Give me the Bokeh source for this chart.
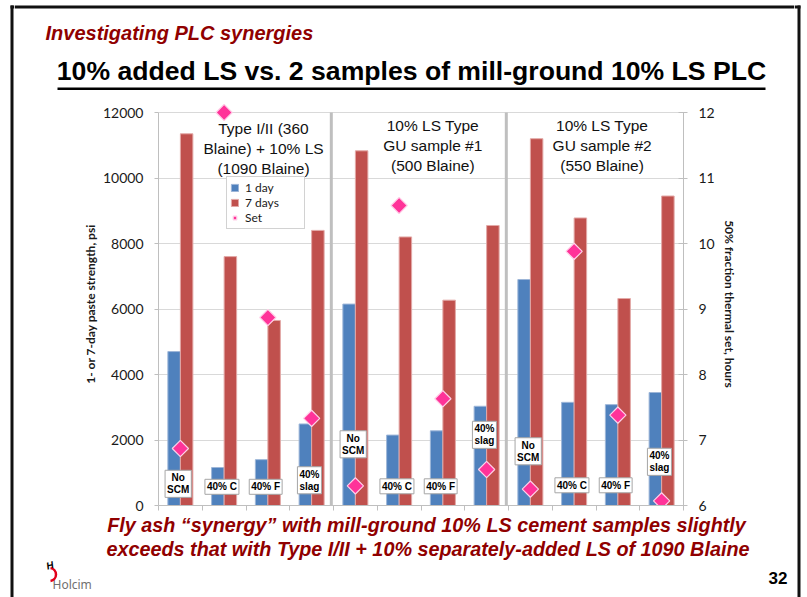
import numpy as np
from bokeh.plotting import figure
from bokeh.layouts import row, column
from bokeh.models import (Range1d, LinearAxis, FixedTicker, Legend, LegendItem)
from bokeh.core.properties import value
from bokeh.embed import file_html
from bokeh.resources import INLINE

# ---------------- data ----------------
panel_titles = ["Type I/II (360\nBlaine) + 10% LS\n(1090 Blaine)",
                "10% LS Type\nGU sample #1\n(500 Blaine)",
                "10% LS Type\nGU sample #2\n(550 Blaine)"]
scm_labels = ["No\nSCM", "40% C", "40% F", "40%\nslag"]
strength_1day = [4700, 1160, 1400, 2490, 6150, 2150, 2280, 3030, 6900, 3150, 3080, 3450]
strength_7day = [11350, 7600, 5650, 8400, 10830, 8200, 6270, 8550, 11200, 8780, 6320, 9450]
set_hours = [6.87, 12.0, 8.87, 7.33, 6.30, 10.58, 7.63, 6.55, 6.25, 9.88, 7.38, 6.07]
left_ticks = [0, 2000, 4000, 6000, 8000, 10000, 12000]
right_ticks = [6, 7, 8, 9, 10, 11, 12]
series_names = ["1 day", "7 days", "Set"]

slide_kicker = "Investigating PLC synergies"
slide_title = "10% added LS vs. 2 samples of mill-ground 10% LS PLC"
conclusion = ["Fly ash \u201csynergy\u201d with mill-ground 10% LS cement samples slightly",
              "exceeds that with Type I/II + 10% separately-added LS of 1090 Blaine"]
y_title = "1- or 7-day paste strength, psi"
y2_title = "50% fraction thermal set, hours"
page_number = "32"
logo_text = "Holcim"

# ---------------- positions (layout only) ----------------
label_y = [662, 571, 571, 770, 1868, 586, 586, 2158, 1655, 617, 617, 1334]
title_x = [2.4, 6.27, 10.14]
title_y_px = [46, 43, 43]          # px below the chart's top edge

# ---------------- geometry (page pixels) ----------------
PAGE_W, PAGE_H = 807, 597
LSTRIP, RSTRIP = 14, 13
COL_W = PAGE_W - LSTRIP - RSTRIP     # 780
HEAD_H = 102
CHART_H = 413
FOOT_H = PAGE_H - HEAD_H - CHART_H   # 82
FRAME_L, FRAME_R = 158, 683
FL = FRAME_L - LSTRIP
FR = LSTRIP + COL_W - FRAME_R
FB = 10
frame_h = CHART_H - FB               # 403

n = len(strength_1day)
y_max = left_ticks[-1]
px_per_unit_y = (frame_h - 10) / y_max
y_top = frame_h / px_per_unit_y
r_lo, r_hi = right_ticks[0], right_ticks[-1]
r_top = r_lo + (r_hi - r_lo) * y_top / y_max


def yd(px_from_top):
    return (frame_h - px_from_top) / px_per_unit_y


BLUE = "#4F81BD"
RED = "#C0504D"
PINK = "#FF3399"
DARKRED = "#900000"
AXIS_GREY = "#BFBFBF"
GRID_GREY = "#D9D9D9"
FRAME_BLACK = "#111111"


def blank(w, h, x0, y0):
    f = figure(width=w, height=h, output_backend="svg", toolbar_location=None,
               x_range=Range1d(x0, x0 + w), y_range=Range1d(y0 + h, y0),
               x_axis_type=None, y_axis_type=None, min_border=0)
    f.grid.visible = False
    f.outline_line_color = None
    f.background_fill_color = "white"
    f.border_fill_color = "white"
    return f


# ---------------- slide frame strips ----------------
ls = blank(LSTRIP, PAGE_H, 0, 0)
ls.quad(left=10, right=13, top=5, bottom=PAGE_H, fill_color=FRAME_BLACK, line_color=None)
ls.quad(left=10, right=LSTRIP, top=5, bottom=8, fill_color=FRAME_BLACK, line_color=None)
rs = blank(RSTRIP, PAGE_H, LSTRIP + COL_W, 0)
rs.quad(left=797, right=800, top=5, bottom=PAGE_H, fill_color=FRAME_BLACK, line_color=None)
rs.quad(left=LSTRIP + COL_W, right=800, top=5, bottom=8, fill_color=FRAME_BLACK, line_color=None)

# ---------------- header ----------------
hd = blank(COL_W, HEAD_H, LSTRIP, 0)
hd.quad(left=LSTRIP, right=LSTRIP + COL_W, top=5, bottom=8, fill_color=FRAME_BLACK, line_color=None)
hd.text(x=[45], y=[32], text=[slide_kicker], text_font=value("Liberation Sans"),
        text_font_size="20px", text_font_style="bold italic", text_color=DARKRED,
        text_align="left", text_baseline="middle")
hd.text(x=[411], y=[70], text=[slide_title], text_font=value("Liberation Sans"),
        text_font_size="26.6px", text_font_style="bold", text_color="black",
        text_align="center", text_baseline="middle")
hd.quad(left=57, right=765, top=87, bottom=89.5, fill_color="black", line_color=None)

# ---------------- chart ----------------
p = figure(width=COL_W, height=CHART_H, output_backend="svg", toolbar_location=None,
           x_range=Range1d(0, n), y_range=Range1d(0, y_top),
           min_border_left=FL, min_border_right=FR, min_border_top=0,
           min_border_bottom=FB)
p.extra_y_ranges = {"set": Range1d(r_lo, r_top)}
p.outline_line_color = None
p.background_fill_color = "white"
p.border_fill_color = "white"

cat = np.arange(n) + 0.5
bw = 0.286

b1 = p.vbar(x=cat - bw / 2, top=strength_1day, width=bw, fill_color=BLUE,
            line_color="#9DB6D8", line_width=1)
b7 = p.vbar(x=cat + bw / 2, top=strength_7day, width=bw, fill_color=RED,
            line_color="#E3A9A7", line_width=1)

group_size = len(scm_labels)
bounds_x = [group_size * (i + 1) - 0.05 for i in range(len(panel_titles) - 1)]
p.segment(x0=bounds_x, y0=0, x1=bounds_x, y1=y_max, line_color=AXIS_GREY, line_width=3)

p.text(x=cat - 0.05, y=label_y, text=scm_labels * len(panel_titles),
       text_font=value("Liberation Sans"), text_font_style="bold",
       text_font_size="10px", text_align="center", text_baseline="middle",
       text_line_height=1.1, text_color="black",
       background_fill_color="white", border_line_color="#A6A6A6",
       padding=2)

st = p.scatter(x=cat, y=set_hours, y_range_name="set", marker="square",
               size=11.5, angle=np.pi / 4, fill_color=PINK, line_color="#FFD0E8",
               line_width=1.2)

p.text(x=title_x, y=[yd(v) for v in title_y_px], text=panel_titles,
       text_font=value("Liberation Sans"), text_font_size="15.5px",
       text_align="center", text_baseline="middle", text_line_height=1.2,
       text_color="#111111")

ya = p.yaxis[0]
ya.ticker = FixedTicker(ticks=left_ticks)
ya.bounds = (0, y_max)
ya.axis_line_color = AXIS_GREY
ya.major_tick_line_color = AXIS_GREY
ya.major_tick_out = 4
ya.major_tick_in = 0
ya.minor_tick_line_color = None
ya.major_label_text_font = "Lato"
ya.major_label_text_font_size = "14px"
ya.major_label_text_color = "#1a1a1a"
ya.major_label_standoff = 11
ya.axis_label = y_title
ya.axis_label_text_font = "Lato"
ya.axis_label_text_font_style = "bold"
ya.axis_label_text_font_size = "12px"
ya.axis_label_text_color = "#1a1a1a"
ya.axis_label_standoff = 2

ra = LinearAxis(y_range_name="set", ticker=FixedTicker(ticks=right_ticks),
                bounds=(r_lo, r_hi))
ra.axis_line_color = AXIS_GREY
ra.major_tick_line_color = AXIS_GREY
ra.major_tick_out = 4
ra.major_tick_in = 5
ra.minor_tick_line_color = None
ra.major_label_text_font = "Lato"
ra.major_label_text_font_size = "14px"
ra.major_label_text_color = "#1a1a1a"
ra.major_label_standoff = 11
ra.axis_label = y2_title
ra.axis_label_text_font = "Lato"
ra.axis_label_text_font_style = "bold"
ra.axis_label_text_font_size = "12px"
ra.axis_label_text_color = "#1a1a1a"
ra.axis_label_standoff = 4
p.add_layout(ra, "right")

xa = p.xaxis[0]
xa.ticker = FixedTicker(ticks=list(range(n + 1)))
xa.axis_line_color = AXIS_GREY
xa.major_tick_line_color = AXIS_GREY
xa.major_tick_out = 5
xa.major_tick_in = 0
xa.minor_tick_line_color = None
xa.major_label_overrides = {i: "" for i in range(n + 1)}
xa.major_label_text_font_size = "1px"
xa.major_label_standoff = 0

p.xgrid.visible = False
p.ygrid.grid_line_color = GRID_GREY
p.ygrid.ticker = FixedTicker(ticks=left_ticks)

legend = Legend(items=[LegendItem(label=series_names[0], renderers=[b1]),
                       LegendItem(label=series_names[1], renderers=[b7]),
                       LegendItem(label=series_names[2], renderers=[st])],
                location=(226 - FRAME_L, frame_h - (181 - HEAD_H) - 48),
                label_text_font="Lato", label_text_font_size="12px",
                label_text_color="#1a1a1a", label_height=14, label_width=56,
                glyph_width=9, glyph_height=9, label_standoff=6, spacing=0,
                padding=3, margin=0, border_line_color="#A6A6A6",
                background_fill_color="white", background_fill_alpha=1)
p.add_layout(legend)

# ---------------- footer ----------------
FOOT_Y0 = HEAD_H + CHART_H
ft = blank(COL_W, FOOT_H, LSTRIP, FOOT_Y0)
ft.text(x=[426, 427.5], y=[524, 548], text=conclusion, text_font=value("Liberation Sans"),
        text_font_size="19.8px", text_font_style="bold italic", text_color=DARKRED,
        text_align="center", text_baseline="middle")
ft.text(x=[787], y=[577], text=[page_number], text_font=value("Liberation Sans"),
        text_font_size="17px", text_font_style="bold", text_color="black",
        text_align="right", text_baseline="middle")
ft.text(x=[52], y=[584], text=[logo_text], text_font=value("Noto Sans"),
        text_font_size="12px", text_color="#707070",
        text_align="left", text_baseline="middle")
ft.arc(x=[49], y=[574], radius=6.5, start_angle=np.pi * 0.45, end_angle=np.pi * 1.55,
       direction="clock", line_color="#E2001A", line_width=2.5)
ft.text(x=[46], y=[566], text=["H"], text_font=value("Liberation Sans"),
        text_font_size="10px", text_font_style="bold italic", text_color="black",
        text_align="left", text_baseline="middle", angle=0.3)

layout = row(ls, column(row(hd, spacing=0), p, row(ft, spacing=0), spacing=0), rs, spacing=0)
open("out.html", "w").write(file_html(layout, INLINE))
